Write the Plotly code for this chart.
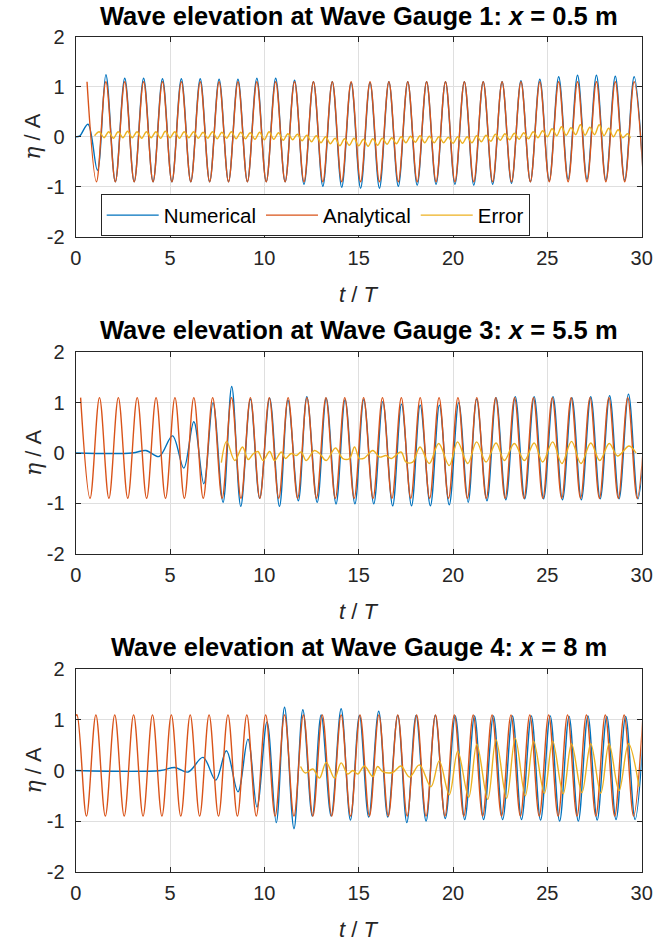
import plotly.graph_objects as go

# ------------------------------------------------------------------
# Data (extrema of each record)
# ------------------------------------------------------------------
# Wave Gauge 1 : x = 0.5 m
num1_t = [0.0, 0.2, 0.65, 1.15, 1.6, 2.1, 2.6, 3.1, 3.6, 4.1, 4.6, 5.1, 5.6, 6.1, 6.6, 7.1,
          7.6, 8.1, 8.6, 9.1, 9.6, 10.1, 10.6, 11.1, 11.6, 12.1, 12.6, 13.1, 13.6, 14.1,
          14.6, 15.1, 15.6, 16.1, 16.6, 17.1, 17.6, 18.1, 18.6, 19.1, 19.6, 20.1, 20.6,
          21.1, 21.6, 22.1, 22.6, 23.1, 23.6, 24.1, 24.6, 25.1, 25.6, 26.1, 26.6, 27.1,
          27.6, 28.1, 28.6, 29.1, 29.6, 30.1]
num1_y = [0.0, 0.01, 0.25, -0.67, 1.24, -0.9, 1.17, -0.9, 1.17, -0.9, 1.16, -0.9, 1.16, -0.9,
          1.16, -0.9, 1.15, -0.9, 1.15, -0.9, 1.17, -0.9, 1.17, -0.9, 1.13, -0.95, 1.1, -0.99,
          1.1, -1.01, 1.08, -1.03, 1.08, -1.03, 1.1, -0.99, 1.1, -0.97, 1.1, -0.95, 1.1, -0.95,
          1.1, -0.97, 1.1, -0.95, 1.1, -0.93, 1.12, -0.9, 1.15, -0.88, 1.2, -0.85, 1.23, -0.85,
          1.23, -0.87, 1.21, -0.87, 1.2, -0.88]
ana1_t = [0.6, 1.1, 1.6, 2.1, 2.6, 3.1, 3.6, 4.1, 4.6, 5.1, 5.6, 6.1, 6.6, 7.1, 7.6, 8.1,
          8.6, 9.1, 9.6, 10.1, 10.6, 11.1, 11.6, 12.1, 12.6, 13.1, 13.6, 14.1, 14.6, 15.1,
          15.6, 16.1, 16.6, 17.1, 17.6, 18.1, 18.6, 19.1, 19.6, 20.1, 20.6, 21.1, 21.6,
          22.1, 22.6, 23.1, 23.6, 24.1, 24.6, 25.1, 25.6, 26.1, 26.6, 27.1, 27.6, 28.1,
          28.6, 29.1, 29.6, 30.1]
ana1_y = [1.1, -0.9, 1.1, -0.9, 1.1, -0.9, 1.1, -0.9, 1.1, -0.9, 1.1, -0.9, 1.1, -0.9,
          1.1, -0.9, 1.1, -0.9, 1.1, -0.9, 1.1, -0.9, 1.1, -0.9, 1.1, -0.9, 1.1, -0.9,
          1.1, -0.9, 1.1, -0.9, 1.1, -0.9, 1.1, -0.9, 1.1, -0.9, 1.1, -0.9, 1.1, -0.9,
          1.1, -0.9, 1.1, -0.9, 1.1, -0.9, 1.1, -0.9, 1.1, -0.9, 1.1, -0.9, 1.1, -0.9,
          1.1, -0.9, 1.1, -0.9]
err1_t = [1.0, 1.25, 1.5, 1.75, 2.0, 2.25, 2.5, 2.75, 3.0, 3.25, 3.5, 3.75, 4.0, 4.25, 4.5,
          4.75, 5.0, 5.25, 5.5, 5.75, 6.0, 6.25, 6.5, 6.75, 7.0, 7.25, 7.5, 7.75, 8.0, 8.25,
          8.5, 8.75, 9.0, 9.25, 9.5, 9.75, 10.0, 10.25, 10.5, 10.75, 11.0, 11.25, 11.5,
          11.75, 12.0, 12.25, 12.5, 12.75, 13.0, 13.25, 13.5, 13.75, 14.0, 14.25, 14.5,
          14.75, 15.0, 15.25, 15.5, 15.75, 16.0, 16.25, 16.5, 16.75, 17.0, 17.25, 17.5,
          17.75, 18.0, 18.25, 18.5, 18.75, 19.0, 19.25, 19.5, 19.75, 20.0, 20.25, 20.5,
          20.75, 21.0, 21.25, 21.5, 21.75, 22.0, 22.25, 22.5, 22.75, 23.0, 23.25, 23.5,
          23.75, 24.0, 24.25, 24.5, 24.75, 25.0, 25.25, 25.5, 25.75, 26.0, 26.25, 26.5,
          26.75, 27.0, 27.25, 27.5, 27.75, 28.0, 28.25, 28.5, 28.75, 29.0, 29.25, 29.4]
err1_y = [0.02, 0.1, -0.02, 0.1, -0.03, 0.1, -0.02, 0.11, -0.02, 0.1, -0.03, 0.1,
          -0.02, 0.1, -0.03, 0.11, -0.02, 0.1, -0.03, 0.1, -0.02, 0.1, -0.03, 0.09,
          -0.03, 0.1, -0.04, 0.09, -0.03, 0.1, -0.04, 0.09, -0.04, 0.08, -0.05, 0.09,
          -0.06, 0.1, -0.05, 0.08, -0.07, 0.06, -0.06, 0.05, -0.08, 0.03, -0.1, 0.02,
          -0.12, 0.0, -0.14, -0.03, -0.18, -0.04, -0.17, -0.03, -0.18, -0.05, -0.19, -0.04,
          -0.17, -0.03, -0.15, -0.02, -0.14, 0.0, -0.12, 0.01, -0.11, 0.02, -0.12, 0.01,
          -0.12, 0.0, -0.12, -0.01, -0.13, 0.0, -0.13, 0.0, -0.12, 0.02, -0.1, 0.03,
          -0.09, 0.05, -0.07, 0.06, -0.06, 0.07, -0.05, 0.08, -0.04, 0.1, -0.02, 0.12,
          0.0, 0.16, 0.02, 0.2, 0.03, 0.18, 0.04, 0.24, 0.03, 0.19, 0.04, 0.24,
          0.02, 0.17, 0.0, 0.14, -0.02, 0.06, -0.03]

# Wave Gauge 3 : x = 5.5 m
num2_t = [0.0, 3.0, 3.72, 4.42, 5.13, 5.73, 6.26, 6.79, 7.28, 7.81, 8.27, 8.75, 9.26, 9.75,
          10.28, 10.8, 11.25, 11.8, 12.25, 12.8, 13.28, 13.8, 14.28, 14.8, 15.27, 15.8,
          16.28, 16.8, 17.27, 17.8, 18.26, 18.8, 19.28, 19.8, 20.3, 20.8, 21.25, 21.8,
          22.28, 22.8, 23.3, 23.8, 24.3, 24.8, 25.3, 25.8, 26.3, 26.8, 27.3, 27.8, 28.3,
          28.8, 29.3, 29.8, 30.3]
num2_y = [0.0, 0.0, 0.05, -0.07, 0.34, -0.3, 0.62, -0.61, 1.0, -0.98, 1.32, -1.06, 1.07, -0.9,
          1.09, -1.06, 1.05, -0.95, 1.12, -0.98, 1.09, -1.01, 1.06, -1.01, 1.06, -1.01,
          1.02, -1.05, 0.97, -1.05, 0.95, -1.05, 0.95, -1.03, 1.0, -0.98, 1.07, -0.95,
          1.1, -0.93, 1.12, -0.91, 1.12, -0.91, 1.12, -0.93, 1.1, -0.93, 1.12, -0.91, 1.14,
          -0.91, 1.17, -0.91, 1.1]
ana2_t = [0.26, 0.76, 1.26, 1.76, 2.26, 2.76, 3.26, 3.76, 4.26, 4.76, 5.26, 5.76, 6.26, 6.76,
          7.26, 7.76, 8.26, 8.76, 9.26, 9.76, 10.26, 10.76, 11.26, 11.76, 12.26, 12.76,
          13.26, 13.76, 14.26, 14.76, 15.26, 15.76, 16.26, 16.76, 17.26, 17.76, 18.26,
          18.76, 19.26, 19.76, 20.26, 20.76, 21.26, 21.76, 22.26, 22.76, 23.26, 23.76,
          24.26, 24.76, 25.26, 25.76, 26.26, 26.76, 27.26, 27.76, 28.26, 28.76, 29.26,
          29.76, 30.26]
ana2_y = [1.1, -0.9, 1.1, -0.9, 1.1, -0.9, 1.1, -0.9, 1.1, -0.9, 1.1, -0.9, 1.1, -0.9,
          1.1, -0.9, 1.1, -0.9, 1.1, -0.9, 1.1, -0.9, 1.1, -0.9, 1.1, -0.9, 1.1, -0.9,
          1.1, -0.9, 1.1, -0.9, 1.1, -0.9, 1.1, -0.9, 1.1, -0.9, 1.1, -0.9, 1.1, -0.9,
          1.1, -0.9, 1.1, -0.9, 1.1, -0.9, 1.1, -0.9, 1.1, -0.9, 1.1, -0.9, 1.1, -0.9,
          1.1, -0.9, 1.1, -0.9, 1.1]
err2_t = [7.72, 8.0, 8.43, 8.84, 9.14, 9.4, 9.66, 9.93, 10.28, 10.54, 10.9, 11.12, 11.42,
          11.69, 11.95, 12.22, 12.66, 12.95, 13.28, 13.77, 14.16, 14.51, 14.78, 15.04, 15.3,
          15.75, 16.1, 16.45, 16.72, 17.24, 17.51, 17.86, 18.25, 18.74, 19.24, 19.8, 20.24,
          20.78, 21.25, 21.75, 22.28, 22.72, 23.25, 23.78, 24.3, 24.75, 25.28, 25.77, 26.28,
          26.78, 27.3, 27.78, 28.28, 28.72, 29.33, 29.7]
err2_y = [-0.19, 0.23, -0.15, 0.12, -0.13, -0.02, 0.03, -0.15, 0.03, -0.15, 0.02, -0.11,
          -0.01, -0.05, 0.02, -0.15, 0.05, -0.02, -0.15, 0.1, -0.11, -0.11, 0.12, -0.11,
          -0.1, 0.05, -0.08, -0.05, -0.11, 0.02, -0.18, -0.18, 0.12, -0.21, 0.19, -0.25,
          0.22, -0.21, 0.22, -0.18, 0.2, -0.15, 0.19, -0.15, 0.2, -0.18, 0.22, -0.21, 0.23,
          -0.21, 0.2, -0.15, 0.19, -0.06, 0.14, 0.0]

# Wave Gauge 4 : x = 8 m
num3_t = [0.0, 4.5, 5.25, 5.96, 6.75, 7.42, 7.99, 8.6, 9.13, 9.61, 10.14, 10.63, 11.07,
          11.57, 12.04, 12.54, 13.01, 13.54, 14.07, 14.56, 15.04, 15.53, 16.06, 16.54,
          17.07, 17.55, 18.04, 18.57, 19.06, 19.59, 20.12, 20.62, 21.14, 21.62, 22.14,
          22.63, 23.15, 23.63, 24.15, 24.64, 25.15, 25.65, 26.15, 26.64, 27.15, 27.64,
          28.15, 28.64, 29.15, 29.65, 30.15]
num3_y = [0.0, 0.0, 0.06, -0.03, 0.26, -0.19, 0.39, -0.42, 0.62, -0.72, 0.96, -1.03, 1.25,
          -1.15, 1.2, -0.9, 1.1, -0.9, 1.22, -0.98, 1.09, -0.92, 1.17, -0.92, 1.09, -1.03,
          1.09, -1.0, 1.09, -0.95, 1.08, -0.97, 1.08, -0.97, 1.08, -0.97, 1.08, -0.97, 1.08,
          -0.98, 1.08, -1.0, 1.07, -1.0, 1.08, -0.98, 1.07, -0.97, 1.07, -0.97, 1.07]
ana3_t = [0.0, 0.07, 0.57, 1.07, 1.57, 2.07, 2.57, 3.07, 3.57, 4.07, 4.57, 5.07, 5.57, 6.07,
          6.57, 7.07, 7.57, 8.07, 8.57, 9.07, 9.57, 10.07, 10.57, 11.07, 11.57, 12.07,
          12.57, 13.07, 13.57, 14.07, 14.57, 15.07, 15.57, 16.07, 16.57, 17.07, 17.57,
          18.07, 18.57, 19.07, 19.57, 20.07, 20.57, 21.07, 21.57, 22.07, 22.57, 23.07,
          23.57, 24.07, 24.57, 25.07, 25.57, 26.07, 26.57, 27.07, 27.57, 28.07, 28.57,
          29.07, 29.57, 30.07]
ana3_y = [1.08, 1.1, -0.9, 1.1, -0.9, 1.1, -0.9, 1.1, -0.9, 1.1, -0.9, 1.1, -0.9, 1.1,
          -0.9, 1.1, -0.9, 1.1, -0.9, 1.1, -0.9, 1.1, -0.9, 1.1, -0.9, 1.1, -0.9, 1.1,
          -0.9, 1.1, -0.9, 1.1, -0.9, 1.1, -0.9, 1.1, -0.9, 1.1, -0.9, 1.1, -0.9, 1.1,
          -0.9, 1.1, -0.9, 1.1, -0.9, 1.1, -0.9, 1.1, -0.9, 1.1, -0.9, 1.1, -0.9, 1.1,
          -0.9, 1.1, -0.9, 1.1, -0.9, 1.1]
err3_t = [11.92, 12.18, 12.57, 12.92, 13.28, 13.72, 14.07, 14.42, 14.69, 14.95, 15.3, 15.75,
          16.0, 16.27, 16.8, 17.24, 17.69, 18.22, 18.83, 19.27, 19.8, 20.25, 20.83, 21.26,
          21.84, 22.28, 22.84, 23.3, 23.83, 24.27, 24.84, 25.28, 25.84, 26.28, 26.83, 27.3,
          27.83, 28.27, 28.8, 29.3, 29.86]
err3_y = [0.08, -0.05, 0.03, -0.15, 0.16, -0.15, 0.15, -0.07, 0.0, -0.07, 0.09, -0.12,
          0.08, -0.02, -0.04, 0.09, -0.13, 0.11, -0.32, 0.19, -0.48, 0.38, -0.53, 0.52,
          -0.57, 0.61, -0.55, 0.64, -0.5, 0.58, -0.45, 0.58, -0.46, 0.53, -0.44, 0.53,
          -0.45, 0.53, -0.4, 0.53, -0.32]

panel_titles = ["Wave elevation at Wave Gauge 1: <i>x</i> = 0.5 m",
                "Wave elevation at Wave Gauge 3: <i>x</i> = 5.5 m",
                "Wave elevation at Wave Gauge 4: <i>x</i> = 8 m"]
series_names = ["Numerical", "Analytical", "Error"]
x_ticks = [0, 5, 10, 15, 20, 25, 30]
y_ticks = [-2, -1, 0, 1, 2]
y_ticktext = ["-2", "-1", "0", "1", "2"]

# ------------------------------------------------------------------
# Layout helpers (pixel positions measured on the 670 x 943 page)
# ------------------------------------------------------------------
W, H = 670, 943
XL, XR = 75.7, 641.7
panels_px = [(36.7, 236.7), (352.3, 553.7), (669.3, 871.7)]
title_centre_px = [16.5, 352.3 - 22.5, 669.3 - 22.5]
COLORS = ["#0072BD", "#D95319", "#EDB120"]
AX = "#262626"
FONT = "Liberation Sans"

data = [
    [(num1_t, num1_y), (ana1_t, ana1_y), (err1_t, err1_y)],
    [(num2_t, num2_y), (ana2_t, ana2_y), (err2_t, err2_y)],
    [(num3_t, num3_y), (ana3_t, ana3_y), (err3_t, err3_y)],
]

fig = go.Figure()
layout = dict(
    width=W, height=H,
    margin=dict(l=0, r=0, t=0, b=0),
    paper_bgcolor="white", plot_bgcolor="white",
    showlegend=True,
    legend=dict(orientation="h", x=100.7 / W, y=1 - 194.3 / H,
                xanchor="left", yanchor="top",
                bgcolor="white", bordercolor=AX, borderwidth=1,
                font=dict(family=FONT, size=20.5, color="black"),
                itemwidth=52, tracegroupgap=0),
)
annotations = []

for i, (top, bot) in enumerate(panels_px):
    sfx = "" if i == 0 else str(i + 1)
    xa, ya = "x" + sfx, "y" + sfx
    for j, (tt, yy) in enumerate(data[i]):
        fig.add_trace(go.Scatter(
            x=tt, y=yy, mode="lines", name=series_names[j],
            line=dict(color=COLORS[j], width=1.4, shape="spline", smoothing=1.0),
            xaxis=xa, yaxis=ya, showlegend=(i == 0), hoverinfo="skip"))
    ydom = [1 - bot / H, 1 - top / H]
    layout["xaxis" + sfx] = dict(
        domain=[XL / W, XR / W], anchor=ya, range=[0, 30],
        tickmode="array", tickvals=x_ticks,
        ticks="inside", ticklen=5, tickcolor=AX, tickwidth=1,
        showline=True, linecolor=AX, linewidth=1.2, mirror="ticks",
        showgrid=True, gridcolor="#DFDFDF", gridwidth=1, zeroline=False,
        tickfont=dict(family=FONT, size=20, color=AX), ticklabelstandoff=3,
        automargin=False)
    layout["yaxis" + sfx] = dict(
        domain=ydom, anchor=xa, range=[-2, 2],
        tickmode="array", tickvals=y_ticks, ticktext=y_ticktext,
        ticks="inside", ticklen=5, tickcolor=AX, tickwidth=1,
        showline=True, linecolor=AX, linewidth=1.2, mirror="ticks",
        showgrid=True, gridcolor="#DFDFDF", gridwidth=1, zeroline=False,
        tickfont=dict(family=FONT, size=20, color=AX), ticklabelstandoff=6,
        automargin=False)
    # title
    annotations.append(dict(
        text="<b>" + panel_titles[i] + "</b>", xref="paper", yref="paper",
        x=(XL + XR) / 2 / W, y=1 - title_centre_px[i] / H, xanchor="center", yanchor="middle",
        showarrow=False, font=dict(family=FONT, size=25.5, color="black")))
    # x label
    annotations.append(dict(
        text="<i>t</i> / <i>T</i>", xref="paper", yref="paper",
        x=(XL + XR) / 2 / W, y=1 - (bot + 58) / H, xanchor="center", yanchor="middle",
        showarrow=False, font=dict(family=FONT, size=22, color=AX)))
    # y label
    annotations.append(dict(
        text="<span style=\"font-family:'DejaVu Serif'\"><i>η</i></span> / A",
        xref="paper", yref="paper", textangle=-90,
        x=33 / W, y=1 - (top + bot) / 2 / H, xanchor="center", yanchor="middle",
        showarrow=False, font=dict(family=FONT, size=22, color=AX)))

layout["annotations"] = annotations
fig.update_layout(**layout)
# the page's default 8 px body margin would push the 670 x 943 figure off-screen
fig.write_html("out.html", config={"displayModeBar": False},
               post_script="document.body.style.margin = '0px';")
